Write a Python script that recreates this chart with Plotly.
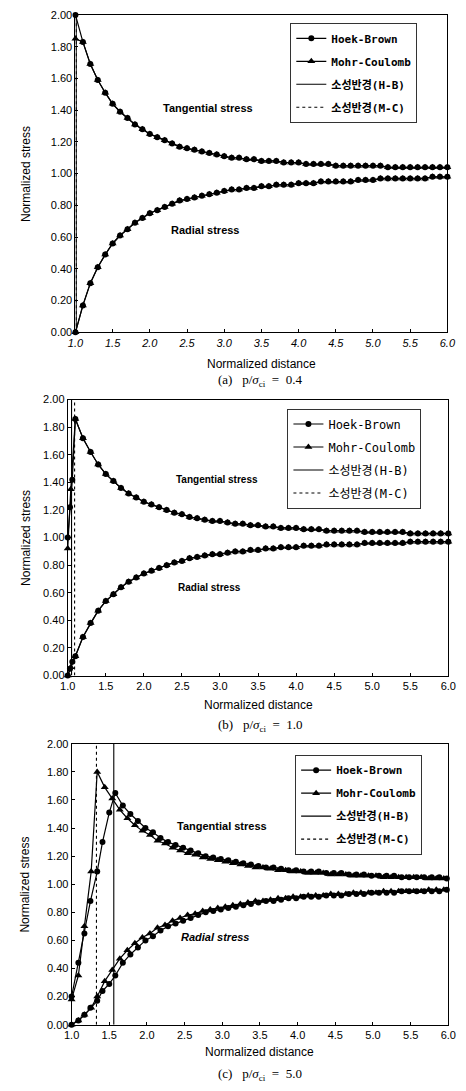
import plotly.graph_objects as go

# ---------------- DATA ----------------
# Panel (a)  p/sigma_ci = 0.4
A_X = [1.0, 1.1, 1.2, 1.3, 1.4, 1.5, 1.6, 1.7, 1.8, 1.9, 2.0, 2.1, 2.2, 2.3, 2.4, 2.5, 2.6,
       2.7, 2.8, 2.9, 3.0, 3.1, 3.2, 3.3, 3.4, 3.5, 3.6, 3.7, 3.8, 3.9, 4.0, 4.1, 4.2, 4.3,
       4.4, 4.5, 4.6, 4.7, 4.8, 4.9, 5.0, 5.1, 5.2, 5.3, 5.4, 5.5, 5.6, 5.7, 5.8, 5.9, 6.0]
A_HB_TAN = [2.00, 1.83, 1.69, 1.59, 1.51, 1.44, 1.39, 1.35, 1.31, 1.28, 1.25,
            1.23, 1.21, 1.19, 1.17, 1.16, 1.15, 1.14, 1.13, 1.12, 1.11,
            1.10, 1.10, 1.09, 1.09, 1.08, 1.08, 1.08, 1.07, 1.07, 1.07,
            1.06, 1.06, 1.06, 1.06, 1.05, 1.05, 1.05, 1.05, 1.05, 1.05,
            1.05, 1.04, 1.04, 1.04, 1.04, 1.04, 1.04, 1.04, 1.04, 1.04]
A_MC_TAN = [1.85, 1.83, 1.69, 1.59, 1.51, 1.44, 1.39, 1.35, 1.31, 1.28, 1.25,
            1.23, 1.21, 1.19, 1.17, 1.16, 1.15, 1.14, 1.13, 1.12, 1.11,
            1.10, 1.10, 1.09, 1.09, 1.08, 1.08, 1.08, 1.07, 1.07, 1.07,
            1.06, 1.06, 1.06, 1.06, 1.05, 1.05, 1.05, 1.05, 1.05, 1.05,
            1.05, 1.04, 1.04, 1.04, 1.04, 1.04, 1.04, 1.04, 1.04, 1.04]
A_HB_RAD = [0.00, 0.17, 0.31, 0.41, 0.49, 0.56, 0.61, 0.65, 0.69, 0.72, 0.75,
            0.77, 0.79, 0.81, 0.83, 0.84, 0.85, 0.86, 0.87, 0.88, 0.89,
            0.90, 0.90, 0.91, 0.91, 0.92, 0.92, 0.93, 0.93, 0.93, 0.94,
            0.94, 0.94, 0.95, 0.95, 0.95, 0.95, 0.95, 0.96, 0.96, 0.96,
            0.97, 0.97, 0.97, 0.97, 0.97, 0.97, 0.97, 0.98, 0.98, 0.98]
A_MC_RAD = list(A_HB_RAD)
A_R_HB = 1.01
A_R_MC = 1.01

# Panel (b)  p/sigma_ci = 1.0
B_X_EL = [1.1, 1.2, 1.3, 1.4, 1.5, 1.6, 1.7, 1.8, 1.9, 2.0, 2.1, 2.2, 2.3, 2.4, 2.5, 2.6,
          2.7, 2.8, 2.9, 3.0, 3.1, 3.2, 3.3, 3.4, 3.5, 3.6, 3.7, 3.8, 3.9, 4.0, 4.1, 4.2, 4.3,
          4.4, 4.5, 4.6, 4.7, 4.8, 4.9, 5.0, 5.1, 5.2, 5.3, 5.4, 5.5, 5.6, 5.7, 5.8, 5.9, 6.0]
B_TAN_EL = [1.86, 1.72, 1.62, 1.53, 1.46, 1.41, 1.36, 1.32, 1.29, 1.26,
            1.24, 1.22, 1.20, 1.18, 1.17, 1.15, 1.14, 1.13, 1.12, 1.12,
            1.11, 1.10, 1.10, 1.09, 1.09, 1.08, 1.08, 1.07, 1.07, 1.07,
            1.06, 1.06, 1.06, 1.05, 1.05, 1.05, 1.05, 1.05, 1.04, 1.04,
            1.04, 1.04, 1.04, 1.04, 1.03, 1.03, 1.03, 1.03, 1.03, 1.03]
B_RAD_EL = [0.14, 0.28, 0.38, 0.47, 0.54, 0.59, 0.64, 0.68, 0.71, 0.74,
            0.76, 0.78, 0.80, 0.82, 0.83, 0.85, 0.86, 0.87, 0.88, 0.88,
            0.89, 0.90, 0.90, 0.91, 0.91, 0.92, 0.92, 0.93, 0.93, 0.93,
            0.94, 0.94, 0.94, 0.95, 0.95, 0.95, 0.95, 0.95, 0.96, 0.96,
            0.96, 0.96, 0.96, 0.96, 0.97, 0.97, 0.97, 0.97, 0.97, 0.97]
B_HB_X_PL = [1.0, 1.03, 1.06]
B_HB_TAN_PL = [1.00, 1.22, 1.42]
B_HB_RAD_PL = [0.00, 0.05, 0.10]
B_MC_X_PL = [1.0, 1.04]
B_MC_TAN_PL = [0.92, 1.35]
B_MC_RAD_PL = [0.00, 0.06]
B_R_HB = 1.05
B_R_MC = 1.09

# Panel (c)  p/sigma_ci = 5.0
C_HB_X = [1.0, 1.09, 1.17, 1.25, 1.34, 1.41, 1.50,
          1.58, 1.68, 1.78, 1.88, 1.98, 2.08, 2.18, 2.28, 2.38, 2.48, 2.58, 2.68, 2.78,
          2.88, 2.98, 3.08, 3.18, 3.28, 3.38, 3.48, 3.58, 3.68, 3.78, 3.88, 3.98, 4.08,
          4.18, 4.28, 4.38, 4.48, 4.58, 4.68, 4.78, 4.88, 4.98, 5.08, 5.18, 5.28, 5.38,
          5.48, 5.58, 5.68, 5.78, 5.88, 5.98]
C_HB_TAN = [0.20, 0.44, 0.65, 0.88, 1.09, 1.30, 1.51,
            1.65, 1.56, 1.50, 1.45, 1.40, 1.37, 1.33, 1.30, 1.28, 1.26,
            1.24, 1.22, 1.20, 1.19, 1.18, 1.17, 1.16, 1.15, 1.14, 1.13,
            1.12, 1.12, 1.11, 1.10, 1.10, 1.09, 1.09, 1.09, 1.08, 1.08,
            1.08, 1.07, 1.07, 1.07, 1.06, 1.06, 1.06, 1.06, 1.05, 1.05,
            1.05, 1.05, 1.05, 1.05, 1.04]
C_HB_RAD = [0.00, 0.03, 0.07, 0.12, 0.17, 0.24, 0.29,
            0.35, 0.44, 0.50, 0.55, 0.60, 0.63, 0.67, 0.70, 0.72, 0.74,
            0.76, 0.78, 0.80, 0.81, 0.82, 0.83, 0.84, 0.85, 0.86, 0.87,
            0.88, 0.88, 0.89, 0.90, 0.90, 0.91, 0.91, 0.91, 0.92, 0.92,
            0.92, 0.93, 0.93, 0.93, 0.94, 0.94, 0.94, 0.94, 0.95, 0.95,
            0.95, 0.95, 0.95, 0.95, 0.96]
C_MC_X = [1.0, 1.09, 1.17, 1.26,
          1.34, 1.44, 1.54, 1.64, 1.74, 1.84, 1.94, 2.04, 2.14, 2.24, 2.34, 2.44, 2.54,
          2.64, 2.74, 2.84, 2.94, 3.04, 3.14, 3.24, 3.34, 3.44, 3.54, 3.64, 3.74, 3.84,
          3.94, 4.04, 4.14, 4.24, 4.34, 4.44, 4.54, 4.64, 4.74, 4.84, 4.94, 5.04, 5.14,
          5.24, 5.34, 5.44, 5.54, 5.64, 5.74, 5.84, 5.94]
C_MC_TAN = [0.18, 0.35, 0.70, 1.09,
            1.80, 1.69, 1.61, 1.53, 1.47, 1.42, 1.38, 1.35, 1.31, 1.29,
            1.26, 1.24, 1.22, 1.21, 1.19, 1.18, 1.17, 1.16, 1.15, 1.14,
            1.13, 1.12, 1.12, 1.11, 1.10, 1.10, 1.09, 1.09, 1.08, 1.08,
            1.08, 1.07, 1.07, 1.07, 1.06, 1.06, 1.06, 1.06, 1.05, 1.05,
            1.05, 1.05, 1.05, 1.05, 1.04, 1.04, 1.04]
C_MC_RAD = [0.00, 0.03, 0.07, 0.12,
            0.20, 0.31, 0.39, 0.47, 0.53, 0.58, 0.62, 0.65, 0.69, 0.71,
            0.74, 0.76, 0.78, 0.79, 0.81, 0.82, 0.83, 0.84, 0.85, 0.86,
            0.87, 0.88, 0.88, 0.89, 0.90, 0.90, 0.91, 0.91, 0.92, 0.92,
            0.92, 0.93, 0.93, 0.93, 0.94, 0.94, 0.94, 0.94, 0.95, 0.95,
            0.95, 0.95, 0.95, 0.95, 0.96, 0.96, 0.96]
C_R_HB = 1.56
C_R_MC = 1.33

Y_RANGE = [0.0, 2.0]
Y_TICKS = [0.0, 0.2, 0.4, 0.6, 0.8, 1.0, 1.2, 1.4, 1.6, 1.8, 2.0]
X_TICKS = [1.0, 1.5, 2.0, 2.5, 3.0, 3.5, 4.0, 4.5, 5.0, 5.5, 6.0]
SERIES_NAMES = ["Hoek-Brown", "Mohr-Coulomb", "소성반경(H-B)", "소성반경(M-C)"]
CAPTIONS = ["(a)", "(b)", "(c)"]
RATIOS = ["0.4", "1.0", "5.0"]

# ---------------- LAYOUT HELPERS ----------------
W, H = 466, 1091
def px(x):
    return x / W
def py(y):
    return 1 - y / H

panels = [
    dict(
        hb_x=A_X, hb_tan=A_HB_TAN, hb_rad=A_HB_RAD,
        mc_x=A_X, mc_tan=A_MC_TAN, mc_rad=A_MC_RAD,
        r_hb=A_R_HB, r_mc=A_R_MC,
        box=(70, 456, 9, 330), xtitle_y=362, cap_y=379,
        legend_xy=(293, 17), legend_font=11, legend_weight="bold",
        tan_xy=(208, 103), rad_xy=(204, 226), ann_italic=False, ann_size=11,
    ),
    dict(
        hb_x=B_HB_X_PL + B_X_EL, hb_tan=B_HB_TAN_PL + B_TAN_EL, hb_rad=B_HB_RAD_PL + B_RAD_EL,
        mc_x=B_MC_X_PL + B_X_EL, mc_tan=B_MC_TAN_PL + B_TAN_EL, mc_rad=B_MC_RAD_PL + B_RAD_EL,
        r_hb=B_R_HB, r_mc=B_R_MC,
        box=(62, 457, 398, 677), xtitle_y=707, cap_y=727,
        legend_xy=(290, 407), legend_font=12, legend_weight="normal",
        tan_xy=(217, 479), rad_xy=(209, 588), ann_italic=False, ann_size=10,
    ),
    dict(
        hb_x=C_HB_X, hb_tan=C_HB_TAN, hb_rad=C_HB_RAD,
        mc_x=C_MC_X, mc_tan=C_MC_TAN, mc_rad=C_MC_RAD,
        r_hb=C_R_HB, r_mc=C_R_MC,
        box=(66, 457, 746, 1030), xtitle_y=1058, cap_y=1080,
        legend_xy=(298, 757), legend_font=11, legend_weight="bold",
        tan_xy=(222, 829), rad_xy=(215, 941), ann_italic=True, ann_size=11,
    ),
]

fig = go.Figure()
annotations = []
layout_axes = {}
LEG_FONT = "DejaVu Sans Mono, Noto Sans CJK KR, monospace"
AX_FONT = "Liberation Sans, Arial, sans-serif"

for i, p in enumerate(panels):
    n = i + 1
    xa = "x" if n == 1 else f"x{n}"
    ya = "y" if n == 1 else f"y{n}"
    leg = "legend" if n == 1 else f"legend{n}"
    x0, x1, y0, y1 = p["box"]

    common = dict(xaxis=xa, yaxis=ya, legend=leg, cliponaxis=False)
    fig.add_trace(go.Scatter(x=p["hb_x"], y=p["hb_tan"], mode="lines+markers", name=SERIES_NAMES[0],
                             legendgroup=f"hb{n}", line=dict(color="black", width=1.2),
                             marker=dict(symbol="circle", size=6, color="black"), **common))
    fig.add_trace(go.Scatter(x=p["hb_x"], y=p["hb_rad"], mode="lines+markers", name=SERIES_NAMES[0],
                             legendgroup=f"hb{n}", showlegend=False, line=dict(color="black", width=1.2),
                             marker=dict(symbol="circle", size=6, color="black"), **common))
    fig.add_trace(go.Scatter(x=p["mc_x"], y=p["mc_tan"], mode="lines+markers", name=SERIES_NAMES[1],
                             legendgroup=f"mc{n}", line=dict(color="black", width=1.2),
                             marker=dict(symbol="triangle-up", size=7, color="black"), **common))
    fig.add_trace(go.Scatter(x=p["mc_x"], y=p["mc_rad"], mode="lines+markers", name=SERIES_NAMES[1],
                             legendgroup=f"mc{n}", showlegend=False, line=dict(color="black", width=1.2),
                             marker=dict(symbol="triangle-up", size=7, color="black"), **common))
    fig.add_trace(go.Scatter(x=[p["r_hb"], p["r_hb"]], y=Y_RANGE, mode="lines", name=SERIES_NAMES[2],
                             legendgroup=f"rhb{n}", line=dict(color="black", width=1.1), **common))
    fig.add_trace(go.Scatter(x=[p["r_mc"], p["r_mc"]], y=Y_RANGE, mode="lines", name=SERIES_NAMES[3],
                             legendgroup=f"rmc{n}", line=dict(color="black", width=1.1, dash="dot"), **common))

    xkey = "xaxis" if n == 1 else f"xaxis{n}"
    ykey = "yaxis" if n == 1 else f"yaxis{n}"
    layout_axes[xkey] = dict(
        domain=[px(x0), px(x1)], anchor=ya, range=[1.0, 6.0], tickvals=X_TICKS,
        tickformat=".1f", showgrid=False, zeroline=False, showline=True, mirror=True,
        linecolor="black", linewidth=1, ticks="inside", ticklen=3, tickcolor="black",
        ticklabeloverflow="allow",
        tickfont=dict(family=AX_FONT, size=11, color="black",
                      style="italic" if n == 1 else "normal"),
    )
    layout_axes[ykey] = dict(
        domain=[py(y1), py(y0)], anchor=xa, range=Y_RANGE, tickvals=Y_TICKS,
        tickformat=".2f", showgrid=False, zeroline=False, showline=True, mirror=True,
        linecolor="black", linewidth=1, ticks="inside", ticklen=3, tickcolor="black",
        tickfont=dict(family=AX_FONT, size=11, color="black"),
    )
    lx, ly = p["legend_xy"]
    layout_axes[leg] = dict(
        x=px(lx), y=py(ly), xanchor="left", yanchor="top", xref="paper", yref="paper",
        bgcolor="white", bordercolor="#333", borderwidth=1, tracegroupgap=4,
        font=dict(family=LEG_FONT, size=p["legend_font"], color="black", weight=p["legend_weight"]),
        itemwidth=30, traceorder="grouped",
    )

    # axis titles
    annotations.append(dict(text="Normalized stress", x=px(18), y=py((y0 + y1) / 2), xref="paper", yref="paper",
                            textangle=-90, showarrow=False, xanchor="center", yanchor="middle",
                            font=dict(family=AX_FONT, size=12, color="black")))
    annotations.append(dict(text="Normalized distance", x=px((x0 + x1) / 2), y=py(p["xtitle_y"]),
                            xref="paper", yref="paper", showarrow=False, xanchor="center", yanchor="middle",
                            font=dict(family=AX_FONT, size=12, color="black")))
    annotations.append(dict(text=f"{CAPTIONS[i]}\u00a0\u00a0\u00a0p/<i>σ</i><sub>ci</sub>\u00a0\u00a0=\u00a0\u00a0{RATIOS[i]}",
                            x=px(262), y=py(p["cap_y"]), xref="paper", yref="paper", showarrow=False,
                            xanchor="center", yanchor="middle",
                            font=dict(family="Liberation Serif, Times New Roman, serif", size=13, color="black")))
    tx, ty = p["tan_xy"]
    rx, ry = p["rad_xy"]
    t1 = "<b>Tangential stress</b>"
    t2 = "<b><i>Radial stress</i></b>" if p["ann_italic"] else "<b>Radial stress</b>"
    annotations.append(dict(text=t1, x=px(tx), y=py(ty), xref="paper", yref="paper", showarrow=False,
                            xanchor="center", yanchor="middle",
                            font=dict(family=AX_FONT, size=p["ann_size"], color="black")))
    annotations.append(dict(text=t2, x=px(rx), y=py(ry), xref="paper", yref="paper", showarrow=False,
                            xanchor="center", yanchor="middle",
                            font=dict(family=AX_FONT, size=p["ann_size"], color="black")))

fig.update_layout(
    width=W, height=H, margin=dict(l=0, r=0, t=0, b=0),
    paper_bgcolor="white", plot_bgcolor="white",
    annotations=annotations, showlegend=True,
    **layout_axes,
)

fig.write_html(
    "out.html",
    config={"displayModeBar": False},
    post_script="document.body.style.margin='0';document.body.style.overflow='hidden';",
)
